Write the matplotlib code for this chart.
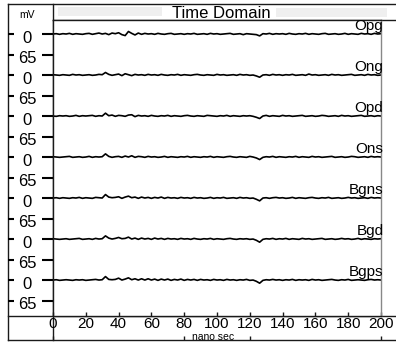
#!/usr/bin/env python3
"""Time-domain stacked traces (mV vs nano sec), seven channels."""
import matplotlib

matplotlib.use("Agg")
import matplotlib.pyplot as plt
import matplotlib.transforms as mtransforms
from matplotlib.patches import Rectangle

plt.rcParams["font.family"] = ["Liberation Sans", "DejaVu Sans"]

W, H = 396, 346  # figure size in pixels

# time axis: 0..200 ns in 2 ns steps
t_ns = list(range(0, 201, 2))

channels = ["Opg", "Ong", "Opd", "Ons", "Bgns", "Bgd", "Bgps"]

opg = [0, 1, -1, 1, 0, 2, -1, 1, 0, -1,
       1, 2, -1, 1, 3, 0, 2, -2, 3, 1,
       4, -2, -5, 8, 2, -3, 3, -1, 2, 0,
       1, -1, 2, 0, -1, 1, 2, -1, 0, 1,
       -1, 1, 0, 2, -1, 0, 1, -1, 2, 0,
       1, -1, 0, 1, 2, -1, 0, 1, -2, 1,
       0, -1, -2, -6, 1, 0, 2, -1, 1, 0,
       1, -1, 2, 0, -1, 1, 0, 2, -1, 1,
       0, -1, 1, 2, -1, 0, 1, -1, 0, 2,
       -1, 1, 0, -1, 2, 0, 1, -1, 2, 0, 1]
ong = [1, 0, -1, 1, 0, -1, 2, 0, 1, -1,
       0, 1, -1, 0, 2, 1, 8, 2, -1, 1,
       3, -2, 4, 1, -2, 2, 0, 1, -1, 2,
       0, 1, -1, 2, 0, -1, 1, 0, 2, -1,
       1, 0, -1, 1, 2, 0, -1, 1, 0, -1,
       2, 0, 1, -1, 0, 1, -1, 2, 0, 1,
       -1, 0, -3, -7, 0, 1, -1, 2, 0, 1,
       -1, 1, 0, 2, -1, 0, 1, -1, 3, 0,
       1, -1, 0, 1, -1, 2, 0, 1, -1, 0,
       1, 2, -1, 0, 1, -1, 2, 0, 1, -1, 0]
opd = [0, -1, 1, 0, 1, -1, 0, 2, -1, 1,
       0, 1, 2, -1, 1, 0, 9, 1, 3, -1,
       2, 1, -1, 3, 4, -2, 2, 0, 1, -1,
       2, 0, -1, 1, 0, 2, -1, 1, 0, -1,
       1, 2, 0, -1, 1, 0, -1, 2, 1, 0,
       -1, 1, 0, 2, -1, 1, 0, -1, 1, 0,
       1, -1, -4, -8, 0, 2, -1, 1, 0, -1,
       2, 0, 1, -1, 0, 1, 2, -1, 0, 1,
       -1, 0, 2, 1, -1, 0, 1, -1, 2, 0,
       1, -1, 0, 1, 2, -1, 0, 1, -1, 1, 0]
ons = [1, 0, -1, 0, 1, 2, -1, 0, 1, -1,
       0, 2, -1, 1, 0, 1, 10, 2, -1, 1,
       2, -1, 3, 0, 4, -1, 2, 1, -1, 2,
       0, 1, -1, 0, 2, -1, 1, 0, -1, 1,
       0, 2, -1, 1, 0, -1, 1, 0, 2, -1,
       1, 0, -1, 1, 2, 0, -1, 1, 0, -1,
       2, 0, -3, -8, -1, 1, 0, 2, -1, 1,
       0, -1, 1, 0, 2, -1, 1, 0, -1, 2,
       0, 1, -1, 0, 1, 2, -1, 0, 1, -1,
       0, 2, 1, -1, 0, 1, -1, 2, 0, 1, 0]
bgns = [0, 1, -1, 1, 0, -1, 1, 0, 2, -1,
        1, 0, -1, 2, 1, 0, 11, 3, 1, 2,
        4, -1, 3, 6, 1, 3, -1, 3, 0, 2,
        -1, 2, 0, 3, -1, 2, 0, 1, -1, 2,
        0, 1, -1, 2, 0, 1, -1, 0, 2, -1,
        1, 0, 2, -1, 0, 1, -1, 2, 0, 1,
        -1, 0, -4, -9, 0, 1, -1, 1, 2, 0,
        1, -1, 0, 2, -1, 1, 0, -1, 1, 2,
        0, -1, 1, 0, 2, -1, 0, 1, -1, 0,
        2, 0, 1, -1, 0, 1, -1, 2, 0, 1, 0]
bgd = [1, 0, -1, 0, 1, -1, 0, 1, 2, -1,
       0, 1, -1, 2, 0, 1, 10, 3, 0, 2,
       5, 1, 2, 6, 0, 3, -1, 3, 0, 2,
       -1, 3, 0, 2, -1, 2, 0, 1, -1, 2,
       0, 1, -1, 2, 0, -1, 1, 0, 2, -1,
       1, 0, -1, 1, 2, 0, -1, 1, 0, 1,
       -1, 0, -4, -10, -1, 1, 0, 2, -1, 1,
       0, 2, -1, 1, 0, -1, 2, 0, 1, -1,
       0, 1, 2, -1, 0, 1, -1, 0, 2, 0,
       1, -1, 0, 2, -1, 1, 0, -1, 1, 0, 1]
bgps = [0, 1, -1, 0, 1, 0, -1, 1, 0, 1,
        -1, 0, 1, 2, 0, 1, 11, 2, 1, 2,
        6, 0, 3, 7, 1, 4, 0, 4, 0, 4,
        0, 3, -1, 3, 0, 3, -1, 2, 0, 3,
        -1, 2, 0, 2, -1, 2, 0, 1, -1, 2,
        0, 1, -1, 2, 0, 1, -1, 1, 0, 2,
        -1, 0, -4, -10, -1, 1, 0, 2, 0, 1,
        -1, 1, 0, 2, -1, 1, 0, 1, -1, 2,
        0, 1, -1, 0, 1, 2, 0, -1, 1, 0,
        2, -1, 0, 1, 0, -1, 1, 2, 0, 1, 0]
traces = [opg, ong, opd, ons, bgns, bgd, bgps]

x_ticks = list(range(0, 201, 20))
x_ticks_bottom = [0, 80, 120, 200]
step_mv = 130   # vertical spacing between channels
mark_mv = 65    # second tick under each channel


def px(v):
    return v * 72.0 / 100  # pixels -> points at dpi 100


fig = plt.figure(figsize=(W / 100, H / 100), dpi=100)

# frame drawn in pixel coordinates
bg = fig.add_axes([0, 0, 1, 1])
bg.set_xlim(0, W)
bg.set_ylim(H, 0)
bg.axis("off")
lc = "#1a1a1a"
bg.plot([8, W], [4, 4], color=lc, lw=1)
bg.plot([8, W], [340, 340], color=lc, lw=1)
bg.plot([8, W], [316, 316], color=lc, lw=1)
bg.plot([53, W], [20, 20], color=lc, lw=1)
bg.plot([8, 8], [4, 340], color=lc, lw=1)
bg.plot([53, 53], [4, 340], color=lc, lw=1)
bg.add_patch(Rectangle((58, 7), 104, 9, color="#efefef", lw=0))
bg.add_patch(Rectangle((276, 8), 111, 9, color="#efefef", lw=0))
bg.text(221, 13.5, "Time Domain", ha="center", va="center", fontsize=12)
bg.text(27, 15.5, "mV", ha="center", va="center", fontsize=7.5)
bg.text(213, 337, "nano sec", ha="center", va="center", fontsize=7.5)

rect = [53 / W, (H - 316) / H, 328 / W, 296 / H]
ax = fig.add_axes(rect)
ax.set_xlim(0, 200)
ax.set_ylim(-(len(channels) - 1) * step_mv - 114, 44.4)

yt, yl = [], []
for k, (name, vals) in enumerate(zip(channels, traces)):
    base = -k * step_mv
    ax.plot(t_ns, [base + v for v in vals], color="black", lw=1.2)
    ax.text(201.5, base + 12.5, name, ha="right", va="baseline",
            fontsize=11, clip_on=False)
    yt += [base, base - mark_mv]
    yl += ["0", str(mark_mv)]

# the white plot patch covers the frame lines, so the spines redraw them
ax.spines["left"].set_color(lc)
ax.spines["top"].set_color(lc)
ax.spines["bottom"].set_color(lc)
ax.spines["right"].set_color("#888888")
for s in ax.spines.values():
    s.set_linewidth(1)

ax.set_xticks(x_ticks)
ax.tick_params(axis="x", direction="in", length=px(4), width=1,
               pad=1, labelsize=11, color=lc)
ax.set_yticks(yt)
ax.set_yticklabels(yl)
ax.tick_params(axis="y", direction="out", length=8, width=1.5,
               pad=px(14.5), labelsize=12, color="black")
shift = mtransforms.ScaledTranslation(0, -2.5 / 100, fig.dpi_scale_trans)
for lab in ax.get_yticklabels():
    lab.set_horizontalalignment("center")
    lab.set_transform(lab.get_transform() + shift)

# short ticks on the left border, at the same data heights
left_tr = mtransforms.blended_transform_factory(bg.transData, ax.transData)
ax.hlines(yt, 8, 14, colors="black", lw=1.5, transform=left_tr,
          clip_on=False)

# ticks on the bottom border
axb = fig.add_axes([53 / W, (H - 340) / H, 328 / W, 24 / H])
axb.patch.set_visible(False)
axb.set_xlim(0, 200)
axb.set_xticks(x_ticks_bottom)
axb.set_yticks([])
axb.tick_params(axis="x", direction="in", length=px(4), width=1,
                labelbottom=False, color=lc)
for s in axb.spines.values():
    s.set_visible(False)

fig.savefig("out.png", dpi=100)
